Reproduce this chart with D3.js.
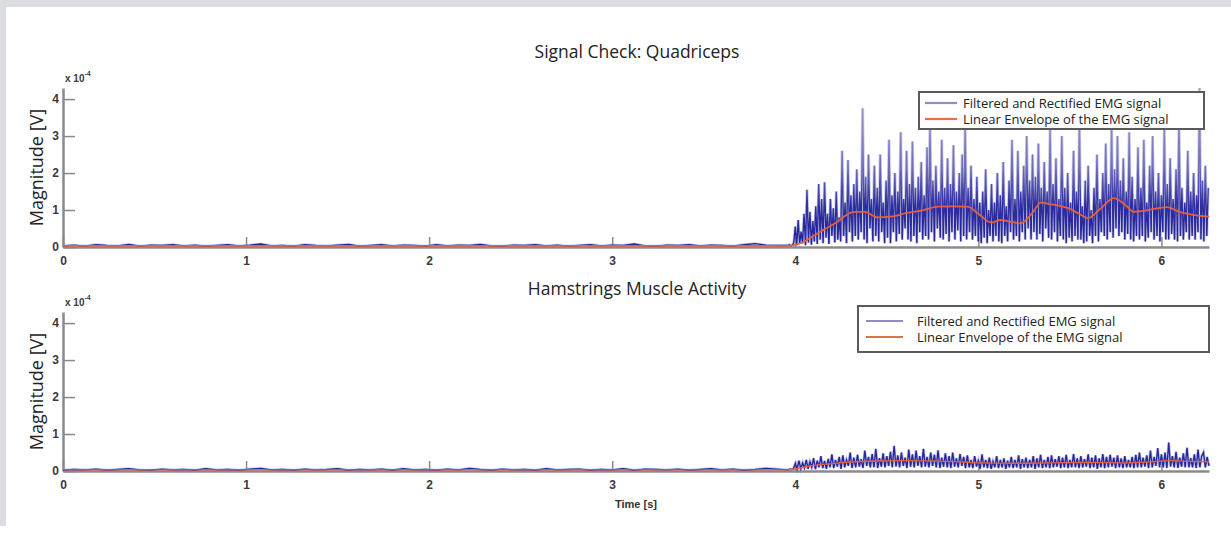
<!DOCTYPE html>
<html>
<head>
<meta charset="utf-8">
<script src="https://cdn.jsdelivr.net/npm/d3@7"></script>
<style>
  body { margin: 0; background: #fff; }
  svg { display: block; }
</style>
</head>
<body>
<div id="chart"></div>
<script>
// x ticks in seconds, y ticks in units of 1e-4 V
const timeTicks = [0, 1, 2, 3, 4, 5, 6];
const magTicks = [0, 1, 2, 3, 4];
const legendLabels = ["Filtered and Rectified EMG signal", "Linear Envelope of the EMG signal"];

// resting part of the recordings, one sample every 0.06 s from t = 0
const restDt = 0.06;
const quadRest = [
  0.03,0.05,0.02,0.06,0.04,0.03,0.07,0.02,0.05,0.04,0.06,
  0.03,0.05,0.02,0.04,0.06,0.03,0.05,0.08,0.03,0.04,0.02,
  0.06,0.04,0.03,0.05,0.07,0.02,0.04,0.06,0.03,0.05,0.04,
  0.02,0.06,0.03,0.05,0.04,0.07,0.03,0.02,0.05,0.04,0.06,
  0.03,0.05,0.02,0.04,0.06,0.03,0.05,0.04,0.08,0.03,0.02,
  0.05,0.04,0.06,0.03,0.05,0.04,0.02,0.06,0.09,0.05,0.04
];
const hamRest = [
  0.02,0.04,0.03,0.05,0.02,0.04,0.06,0.03,0.02,0.05,0.03,
  0.04,0.02,0.06,0.03,0.04,0.02,0.05,0.07,0.03,0.04,0.02,
  0.05,0.03,0.04,0.06,0.02,0.04,0.03,0.05,0.02,0.06,0.03,
  0.04,0.02,0.05,0.03,0.07,0.04,0.02,0.05,0.03,0.04,0.02,
  0.06,0.03,0.04,0.05,0.02,0.04,0.03,0.06,0.02,0.05,0.04,
  0.03,0.05,0.02,0.04,0.06,0.03,0.05,0.02,0.04,0.07,0.05
];

// active part, from t = 3.96 s
const activeStart = 3.96;
const quadDt = 0.008;
const quadActive = [
  0.04,0.06,0.03,0.05,0.12,0.55,0.05,0.73,0.08,0.42,0.1,0.9,
  0.05,1.55,0.12,0.95,0.06,0.7,0.15,1.1,0.08,1.7,0.2,1.3,
  0.1,1.75,0.25,0.9,0.08,1.3,0.3,1.05,0.12,1.5,0.2,0.8,
  0.15,2.6,0.3,1.2,0.1,2.35,0.4,1.4,0.15,1.7,0.3,2.1,
  0.2,1.5,0.4,3.75,0.2,1.9,0.1,2.5,0.5,1.3,0.15,2.2,
  0.3,1.6,0.15,2.5,0.4,1.2,0.1,1.8,0.25,2.9,0.1,1.4,
  0.4,2.0,0.15,1.5,0.35,3.1,0.2,1.3,0.5,2.6,0.2,1.7,
  0.15,2.85,0.3,1.6,0.1,1.9,0.4,2.3,0.2,1.4,0.3,2.7,
  0.2,3.35,0.4,1.8,0.15,2.2,0.5,1.5,0.25,2.9,0.2,1.6,
  0.35,2.4,0.15,1.7,0.4,2.75,0.2,1.5,0.45,2.0,0.15,2.5,
  0.3,3.3,0.2,1.6,0.4,2.2,0.2,1.3,0.3,1.9,0.15,1.2,
  0.1,1.5,0.25,2.1,0.1,1.0,0.3,1.7,0.15,1.2,0.3,2.0,
  0.15,1.4,0.1,2.3,0.3,1.1,0.15,1.8,0.4,2.9,0.2,1.3,
  0.3,2.6,0.15,1.5,0.4,2.2,0.2,3.0,0.5,1.8,0.2,2.5,
  0.4,1.9,0.2,2.8,0.35,1.6,0.15,2.3,0.5,1.5,0.25,3.2,
  0.2,1.7,0.4,2.4,0.15,1.3,0.3,3.0,0.2,1.6,0.1,2.0,
  0.25,1.2,0.15,2.6,0.3,1.5,0.2,3.4,0.2,1.1,0.1,1.8,
  0.15,2.2,0.3,1.0,0.1,1.6,0.3,2.5,0.15,1.3,0.4,2.0,
  0.3,2.8,0.2,1.7,0.4,3.3,0.25,2.1,0.5,3.0,0.3,1.8,
  0.4,2.4,0.2,1.5,0.35,3.1,0.2,1.9,0.15,1.3,0.3,2.7,
  0.2,1.6,0.3,2.9,0.15,1.2,0.25,2.2,0.4,3.0,0.2,1.5,
  0.3,2.0,0.15,1.4,0.4,3.2,0.2,1.7,0.2,2.4,0.35,1.3,
  0.2,2.1,0.15,3.5,0.3,1.6,0.2,1.2,0.4,2.6,0.2,1.5,
  0.3,2.0,0.2,1.4,0.4,4.3,0.2,1.8,0.15,2.2,0.3,1.6
];
const hamDt = 0.01;
const hamActive = [
  0.03,0.05,0.04,0.06,0.2,0.05,0.28,0.06,0.22,0.08,
  0.3,0.06,0.25,0.1,0.35,0.05,0.28,0.1,0.4,0.08,
  0.27,0.06,0.33,0.1,0.45,0.08,0.3,0.12,0.38,0.06,
  0.42,0.1,0.3,0.14,0.5,0.08,0.36,0.1,0.44,0.12,
  0.32,0.08,0.55,0.14,0.38,0.1,0.46,0.1,0.6,0.08,
  0.35,0.12,0.48,0.1,0.4,0.14,0.52,0.1,0.68,0.12,
  0.42,0.1,0.5,0.14,0.36,0.08,0.58,0.12,0.45,0.1,
  0.55,0.14,0.4,0.1,0.6,0.12,0.38,0.1,0.5,0.14,
  0.44,0.1,0.56,0.08,0.36,0.12,0.48,0.1,0.4,0.08,
  0.5,0.12,0.34,0.1,0.46,0.14,0.38,0.08,0.42,0.1,
  0.3,0.08,0.4,0.12,0.28,0.06,0.45,0.1,0.3,0.08,
  0.36,0.06,0.26,0.1,0.4,0.08,0.3,0.1,0.34,0.06,
  0.28,0.1,0.38,0.08,0.3,0.1,0.42,0.06,0.32,0.1,
  0.36,0.08,0.3,0.1,0.4,0.06,0.34,0.1,0.44,0.08,
  0.3,0.1,0.38,0.08,0.42,0.1,0.32,0.12,0.4,0.08,
  0.36,0.1,0.44,0.08,0.3,0.1,0.46,0.1,0.34,0.08,
  0.4,0.1,0.32,0.12,0.45,0.08,0.36,0.1,0.42,0.06,
  0.34,0.1,0.46,0.08,0.38,0.1,0.44,0.12,0.36,0.08,
  0.42,0.1,0.34,0.08,0.4,0.1,0.3,0.1,0.38,0.08,
  0.44,0.1,0.5,0.1,0.36,0.12,0.42,0.08,0.55,0.1,
  0.38,0.14,0.62,0.1,0.45,0.1,0.5,0.08,0.77,0.12,
  0.4,0.1,0.52,0.08,0.36,0.12,0.48,0.1,0.63,0.1,
  0.35,0.1,0.45,0.08,0.58,0.1,0.4,0.5,0.1,0.38,0.14
];

// linear envelopes
const quadEnvTime  = [0, 3.96, 4.0, 4.05, 4.1, 4.15, 4.22, 4.32, 4.38, 4.45, 4.52, 4.61, 4.7, 4.78, 4.86, 4.94, 5.0, 5.07, 5.12, 5.18, 5.23, 5.3, 5.34, 5.4, 5.49, 5.55, 5.6, 5.67, 5.74, 5.8, 5.85, 5.93, 6.03, 6.1, 6.14, 6.2, 6.26];
const quadEnvValue = [0.03, 0.03, 0.06, 0.15, 0.3, 0.45, 0.65, 0.95, 0.95, 0.8, 0.82, 0.92, 1.0, 1.09, 1.1, 1.09, 0.9, 0.66, 0.73, 0.68, 0.64, 0.95, 1.2, 1.15, 1.05, 0.9, 0.78, 1.05, 1.32, 1.15, 0.95, 1.0, 1.08, 0.95, 0.9, 0.85, 0.82];
const hamEnvTime  = [0, 3.96, 4.0, 4.1, 4.2, 4.3, 4.45, 4.6, 4.75, 4.9, 5.0, 5.2, 5.4, 5.6, 5.8, 5.95, 6.05, 6.15, 6.26];
const hamEnvValue = [0.03, 0.03, 0.06, 0.15, 0.2, 0.24, 0.27, 0.28, 0.27, 0.25, 0.22, 0.21, 0.22, 0.23, 0.22, 0.25, 0.28, 0.26, 0.25];

const width = 1231, height = 558;
const textFont = "'Open Sans', 'Noto Sans', sans-serif";
const tickFont = "'Liberation Sans', Arial, sans-serif";

const svg = d3.select("#chart").append("svg")
  .attr("width", width)
  .attr("height", height);
const defs = svg.append("defs");

// grey page frame
svg.append("rect").attr("width", width).attr("height", 7).attr("fill", "#dcdde0");
svg.append("rect").attr("width", 6).attr("height", 526).attr("fill", "#dcdde0");

const x = d3.scaleLinear().domain([0, 6.26]).range([63, 1209]);

function toPoints(rest, active, dt) {
  const pts = rest.map((v, i) => ({t: i * restDt, v: v}));
  active.forEach((v, i) => pts.push({t: activeStart + i * dt, v: v}));
  return pts;
}

function drawPanel(p) {
  const y = d3.scaleLinear().domain([0, 4.3]).range([p.bottom, p.bottom - 159]);
  const g = svg.append("g");

  // axes (below the data, like matlab)
  const yAxis = g.append("g")
    .attr("transform", "translate(" + x(0) + ",0)")
    .call(d3.axisLeft(y).tickValues(magTicks).tickFormat(d3.format("d"))
      .tickSizeInner(-12).tickSizeOuter(0).tickPadding(4));
  const xAxis = g.append("g")
    .attr("transform", "translate(0," + y(0) + ")")
    .call(d3.axisBottom(x).tickValues(timeTicks).tickFormat(d3.format("d"))
      .tickSizeInner(-10).tickSizeOuter(0).tickPadding(9));
  [yAxis, xAxis].forEach(a => {
    a.select(".domain").attr("stroke", "#8a8a8a").attr("stroke-width", 2.5);
    a.selectAll(".tick line").attr("stroke", "#8a8a8a").attr("stroke-width", 1.5);
    a.selectAll(".tick text")
      .attr("fill", "#3a3a3a")
      .style("font-family", tickFont)
      .style("font-weight", "bold")
      .style("font-size", "12px");
  });

  // exponent label
  const ex = g.append("text")
    .attr("x", x(0) + 2)
    .attr("y", y(4.3) - 6)
    .attr("fill", "#3a3a3a")
    .style("font-family", tickFont)
    .style("font-weight", "bold")
    .style("font-size", "10px")
    .text("x 10");
  ex.append("tspan").attr("dy", -6).style("font-size", "7px").text("-4");

  // title and y label
  g.append("text")
    .attr("x", 637).attr("y", p.titleY)
    .attr("text-anchor", "middle")
    .attr("fill", "#222")
    .style("font-family", textFont)
    .style("font-size", "17.5px")
    .text(p.title);
  g.append("text")
    .attr("transform", "translate(43," + (y(0) + y(4.3)) / 2 + ")rotate(-90)")
    .attr("text-anchor", "middle")
    .attr("fill", "#222")
    .style("font-family", textFont)
    .style("font-size", "18px")
    .text("Magnitude [V]");

  // signal colour fades from dark blue core to pale lavender spike tips
  const grad = defs.append("linearGradient")
    .attr("id", p.id + "-grad")
    .attr("gradientUnits", "userSpaceOnUse")
    .attr("x1", 0).attr("x2", 0)
    .attr("y1", y(0)).attr("y2", y(4.3));
  [[0, "#24249a"], [0.26, "#2e2ea0"], [0.5, "#6f6dbb"], [1, "#a4a2d6"]].forEach(s => {
    grad.append("stop").attr("offset", s[0]).attr("stop-color", s[1]);
  });

  const pts = toPoints(p.rest, p.active, p.dt);
  const line = d3.line().x(d => x(d.t)).y(d => y(d.v));
  g.append("path").datum(pts)
    .attr("d", line)
    .attr("fill", "none")
    .attr("stroke", "#9694cc")
    .attr("stroke-width", 3)
    .attr("stroke-opacity", 0.5);
  g.append("path").datum(pts)
    .attr("d", line)
    .attr("fill", "none")
    .attr("stroke", "url(#" + p.id + "-grad)")
    .attr("stroke-width", 1.4);

  // envelope
  const env = p.envTime.map((t, i) => ({t: t, v: p.envValue[i]}));
  g.append("path").datum(env)
    .attr("d", d3.line().x(d => x(d.t)).y(d => y(d.v)).curve(d3.curveMonotoneX))
    .attr("fill", "none")
    .attr("stroke", "#e4603e")
    .attr("stroke-width", p.envWidth);

  // legend
  const lg = g.append("g").attr("transform", "translate(" + p.legend.x + "," + p.legend.y + ")");
  lg.append("rect")
    .attr("width", p.legend.w).attr("height", p.legend.h)
    .attr("fill", "#fff")
    .attr("stroke", "#5a5a5a")
    .attr("stroke-width", 2);
  const colors = ["#8f8dc8", "#e0704a"];
  legendLabels.forEach((lab, i) => {
    const cy = p.legend.row0 + i * 16;
    lg.append("line")
      .attr("x1", p.legend.lx1).attr("x2", p.legend.lx2)
      .attr("y1", cy).attr("y2", cy)
      .attr("stroke", colors[i]).attr("stroke-width", 2.2);
    lg.append("text")
      .attr("x", p.legend.tx).attr("y", cy + 5)
      .attr("fill", "#222")
      .style("font-family", textFont)
      .style("font-size", "13px")
      .text(lab);
  });
  return y;
}

drawPanel({
  id: "quad", bottom: 247, title: "Signal Check: Quadriceps", titleY: 58,
  rest: quadRest, active: quadActive, dt: quadDt,
  envTime: quadEnvTime, envValue: quadEnvValue, envWidth: 1.8,
  legend: {x: 919, y: 92, w: 285, h: 37, row0: 11, lx1: 6, lx2: 38, tx: 44}
});

drawPanel({
  id: "ham", bottom: 471, title: "Hamstrings Muscle Activity", titleY: 295,
  rest: hamRest, active: hamActive, dt: hamDt,
  envTime: hamEnvTime, envValue: hamEnvValue, envWidth: 1.3,
  legend: {x: 858, y: 306, w: 351, h: 46, row0: 15, lx1: 8, lx2: 45, tx: 59}
});

// shared x label
svg.append("text")
  .attr("x", 636).attr("y", 508)
  .attr("text-anchor", "middle")
  .attr("fill", "#333")
  .style("font-family", tickFont)
  .style("font-weight", "bold")
  .style("font-size", "11px")
  .text("Time [s]");
</script>
</body>
</html>
